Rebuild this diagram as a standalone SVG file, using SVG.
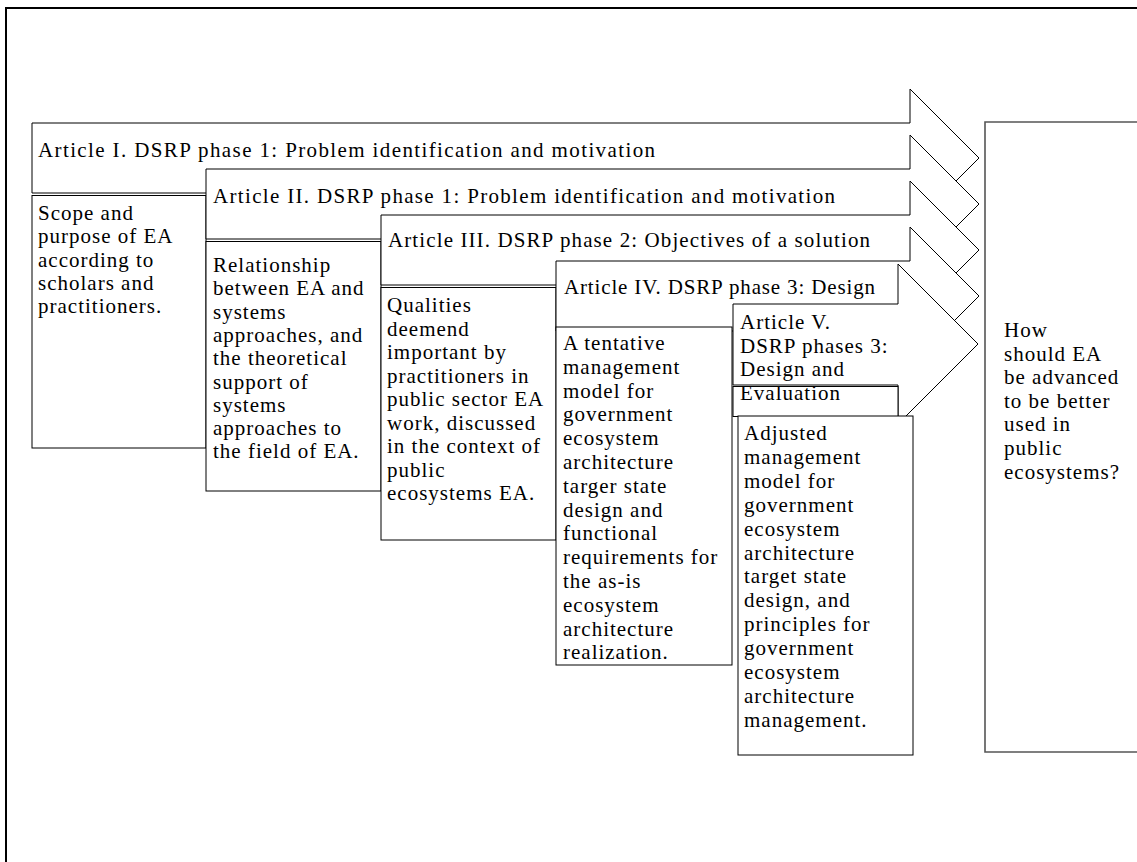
<svg xmlns="http://www.w3.org/2000/svg" width="1137" height="862" viewBox="0 0 1137 862">
  <style>
    .frame { fill: none; stroke: #000; stroke-width: 2; }
    .arrow { fill: #fff; stroke: #000; stroke-width: 1; }
    .box { fill: #fff; stroke: #000; stroke-width: 1; }
    .goal { fill: #fff; stroke: #555; stroke-width: 1.6; }
    text { font-family: "Liberation Serif", "Times New Roman", serif; font-size: 21px; letter-spacing: 1px; fill: #000; }
  </style>

  <!-- page frame -->
  <path class="frame" d="M6,862 V8 H1137"/>

  <!-- research question box -->
  <g id="question">
    <path class="goal" d="M1140,122 H985 V752 H1140"/>
    <text>
      <tspan x="1004" y="337">How</tspan>
      <tspan x="1004" dy="23.6">should EA</tspan>
      <tspan x="1004" dy="23.6">be advanced</tspan>
      <tspan x="1004" dy="23.6">to be better</tspan>
      <tspan x="1004" dy="23.6">used in</tspan>
      <tspan x="1004" dy="23.6">public</tspan>
      <tspan x="1004" dy="23.6">ecosystems?</tspan>
    </text>
  </g>

  <g id="connectors">
    <!-- phase arrows, stacked so each one overlaps the previous -->
    <polygon id="arrow-1" class="arrow" points="32,123 910,123 910,89 979,158 910,227 910,193 32,193"/>
  </g>

  <g id="article-1">
    <text x="38" y="157" textLength="618" lengthAdjust="spacing">Article I. DSRP phase 1: Problem identification and motivation</text>
    <rect class="box" x="32" y="195.5" width="174" height="252.5"/>
    <text>
      <tspan x="38" y="220">Scope and</tspan>
      <tspan x="38" dy="23.3">purpose of EA</tspan>
      <tspan x="38" dy="23.3">according to</tspan>
      <tspan x="38" dy="23.3">scholars and</tspan>
      <tspan x="38" dy="23.3">practitioners.</tspan>
    </text>
  </g>

  <g id="article-2">
    <polygon class="arrow" points="206,169 910,169 910,135 979,204 910,273 910,239 206,239"/>
    <text x="213" y="203" textLength="623" lengthAdjust="spacing">Article II. DSRP phase 1: Problem identification and motivation</text>
    <rect class="box" x="206" y="241.5" width="175" height="249.5"/>
    <text>
      <tspan x="213" y="272">Relationship</tspan>
      <tspan x="213" dy="23.3">between EA and</tspan>
      <tspan x="213" dy="23.3">systems</tspan>
      <tspan x="213" dy="23.3">approaches, and</tspan>
      <tspan x="213" dy="23.3">the theoretical</tspan>
      <tspan x="213" dy="23.3">support of</tspan>
      <tspan x="213" dy="23.3">systems</tspan>
      <tspan x="213" dy="23.3">approaches to</tspan>
      <tspan x="213" dy="23.3">the field of EA.</tspan>
    </text>
  </g>

  <g id="article-3">
    <polygon class="arrow" points="381,215 910,215 910,181 979,250 910,319 910,285 381,285"/>
    <text x="388" y="247" textLength="483" lengthAdjust="spacing">Article III. DSRP phase 2: Objectives of a solution</text>
    <rect class="box" x="381" y="287.5" width="175" height="252.5"/>
    <text>
      <tspan x="387" y="312">Qualities</tspan>
      <tspan x="387" dy="23.5">deemend</tspan>
      <tspan x="387" dy="23.5">important by</tspan>
      <tspan x="387" dy="23.5">practitioners in</tspan>
      <tspan x="387" dy="23.5">public sector EA</tspan>
      <tspan x="387" dy="23.5">work, discussed</tspan>
      <tspan x="387" dy="23.5">in the context of</tspan>
      <tspan x="387" dy="23.5">public</tspan>
      <tspan x="387" dy="23.5">ecosystems EA.</tspan>
    </text>
  </g>

  <g id="article-4">
    <polygon class="arrow" points="556,261 910,261 910,227 979,296 910,365 910,331 556,331"/>
    <text x="564" y="294" textLength="312" lengthAdjust="spacing">Article IV. DSRP phase 3: Design</text>
    <rect class="box" x="556" y="327" width="176" height="338"/>
    <text>
      <tspan x="563" y="350">A tentative</tspan>
      <tspan x="563" dy="23.8">management</tspan>
      <tspan x="563" dy="23.8">model for</tspan>
      <tspan x="563" dy="23.8">government</tspan>
      <tspan x="563" dy="23.8">ecosystem</tspan>
      <tspan x="563" dy="23.8">architecture</tspan>
      <tspan x="563" dy="23.8">targer state</tspan>
      <tspan x="563" dy="23.8">design and</tspan>
      <tspan x="563" dy="23.8">functional</tspan>
      <tspan x="563" dy="23.8">requirements for</tspan>
      <tspan x="563" dy="23.8">the as-is</tspan>
      <tspan x="563" dy="23.8">ecosystem</tspan>
      <tspan x="563" dy="23.8">architecture</tspan>
      <tspan x="563" dy="23.8">realization.</tspan>
    </text>
  </g>

  <g id="article-5">
    <polygon class="arrow" points="733,304 898,304 898,264 978,344 898,424 898,385 733,385"/>
    <rect class="box" x="733" y="386.5" width="165" height="30"/>
    <text>
      <tspan x="740" y="329">Article V.</tspan>
      <tspan x="740" dy="23.7">DSRP phases 3:</tspan>
      <tspan x="740" dy="23.7">Design and</tspan>
      <tspan x="740" dy="23.7">Evaluation</tspan>
    </text>
    <rect class="box" x="738" y="416" width="175" height="339"/>
    <text>
      <tspan x="744" y="440">Adjusted</tspan>
      <tspan x="744" dy="23.9">management</tspan>
      <tspan x="744" dy="23.9">model for</tspan>
      <tspan x="744" dy="23.9">government</tspan>
      <tspan x="744" dy="23.9">ecosystem</tspan>
      <tspan x="744" dy="23.9">architecture</tspan>
      <tspan x="744" dy="23.9">target state</tspan>
      <tspan x="744" dy="23.9">design, and</tspan>
      <tspan x="744" dy="23.9">principles for</tspan>
      <tspan x="744" dy="23.9">government</tspan>
      <tspan x="744" dy="23.9">ecosystem</tspan>
      <tspan x="744" dy="23.9">architecture</tspan>
      <tspan x="744" dy="23.9">management.</tspan>
    </text>
  </g>
</svg>
